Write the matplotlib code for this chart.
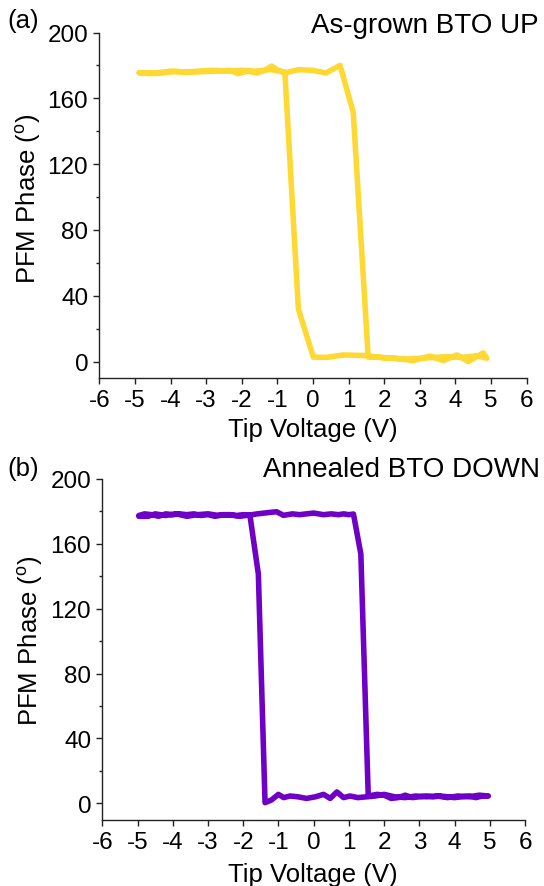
import numpy as np
import matplotlib
matplotlib.use("Agg")
import matplotlib.pyplot as plt
from matplotlib.ticker import MultipleLocator

plt.rcParams['font.family'] = ['Liberation Sans', 'DejaVu Sans']
plt.rcParams['mathtext.fontset'] = 'custom'
plt.rcParams['mathtext.rm'] = 'Liberation Sans'

# (a) as-grown film: forward sweep (upper branch) then reverse sweep
volt_a_fwd = [-4.88, -4.6, -4.3, -3.9, -3.5, -3.1, -2.7, -2.33, -2.1, -1.85,
              -1.58, -1.35, -1.16, -0.98, -0.79, -0.41, 0.0, 0.36, 0.76, 1.13,
              1.55, 1.9, 2.3, 2.81, 3.29, 3.66, 4.04, 4.36, 4.78, 4.88]
phase_a_fwd = [175.7, 175.0, 175.2, 176.3, 176.0, 176.2, 176.5, 177.0, 175.0, 176.5,
               175.4, 177.0, 179.6, 177.0, 175.4, 177.4, 177.0, 175.4, 180.0, 151.5,
               2.7, 2.5, 2.0, 0.6, 3.3, 0.6, 4.0, 0.0, 5.3, 2.0]
volt_a_rev = [4.88, 4.6, 4.2, 3.8, 3.4, 3.0, 2.6, 2.2, 1.9, 1.46,
              1.2, 0.85, 0.38, 0.01, -0.41, -0.79, -1.2, -1.6, -2.0, -2.4,
              -2.8, -3.2, -3.6, -4.0, -4.4, -4.88]
phase_a_rev = [2.0, 3.5, 2.5, 3.0, 2.5, 2.0, 1.5, 2.0, 2.5, 3.6,
               3.8, 4.0, 2.5, 2.7, 32.0, 176.0, 177.5, 176.5, 177.0, 176.5,
               177.0, 176.5, 176.0, 176.5, 175.5, 175.5]

# (b) annealed film
volt_b_fwd = [-4.96, -4.8, -4.6, -4.4, -4.2, -4.0, -3.8, -3.6, -3.4, -3.2,
              -3.0, -2.8, -2.6, -2.4, -2.2, -2.0, -1.81, -1.6, -1.4, -1.2,
              -1.05, -0.86, -0.6, -0.4, -0.2, 0.0, 0.28, 0.5, 0.7, 0.85,
              1.0, 1.13, 1.34, 1.55, 1.8, 2.0, 2.2, 2.4, 2.6, 2.8,
              3.0, 3.2, 3.4, 3.6, 3.8, 4.0, 4.2, 4.4, 4.6, 4.8, 4.96]
phase_b_fwd = [177.5, 178.5, 178.0, 177.0, 178.5, 178.0, 178.5, 178.0, 178.5, 177.5,
               178.0, 177.0, 178.0, 178.0, 177.5, 178.0, 177.8, 178.5, 179.0, 179.5,
               179.8, 177.6, 178.5, 178.0, 178.5, 179.0, 178.0, 178.5, 178.0, 178.5,
               178.0, 178.4, 153.7, 4.5, 5.5, 5.0, 3.0, 3.5, 5.0, 3.5,
               4.0, 4.5, 4.0, 4.5, 4.0, 3.5, 4.0, 4.5, 3.5, 4.5, 4.5]
volt_b_rev = [4.96, 4.7, 4.4, 4.1, 3.8, 3.5, 3.2, 2.9, 2.6, 2.3,
              2.0, 1.75, 1.51, 1.25, 1.03, 0.85, 0.66, 0.47, 0.28, 0.05,
              -0.2, -0.45, -0.67, -0.85, -1.0, -1.2, -1.38, -1.57, -1.81, -2.1,
              -2.4, -2.7, -3.0, -3.3, -3.6, -3.9, -4.2, -4.5, -4.7, -4.96]
phase_b_rev = [4.5, 5.0, 4.0, 4.5, 3.5, 4.5, 4.0, 4.5, 3.5, 4.0,
               5.5, 4.5, 4.0, 3.5, 4.5, 3.5, 7.0, 3.0, 5.5, 4.0,
               3.0, 4.0, 4.5, 3.5, 5.5, 2.0, 0.4, 141.4, 177.8, 177.0,
               178.0, 177.5, 178.5, 178.0, 177.0, 178.5, 177.5, 178.5, 177.0, 177.0]

x_ticks = list(range(-6, 7))
y_ticks = [0, 40, 80, 120, 160, 200]

TICK_FS = 17.5
LABEL_FS = 18.5
TITLE_FS = 20

fig = plt.figure(figsize=(5.44, 8.87), dpi=100)
W, H = 544, 887


def px_axes(left, top, right, bottom):
    return fig.add_axes([left / W, 1 - bottom / H, (right - left) / W, (bottom - top) / H])


def style_axes(ax):
    ax.set_xlim(-6, 6)
    ax.set_ylim(-10, 200)
    ax.set_xticks(x_ticks)
    ax.set_xticklabels([str(t) for t in x_ticks])
    ax.set_yticks(y_ticks)
    ax.yaxis.set_minor_locator(MultipleLocator(20))
    for side in ("top", "right"):
        ax.spines[side].set_visible(False)
    for side in ("left", "bottom"):
        ax.spines[side].set_linewidth(1.0)
        ax.spines[side].set_color("#222222")
    ax.tick_params(which="major", direction="out", length=4.5, width=1.0,
                   labelsize=TICK_FS, pad=3.5, color="#222222")
    ax.tick_params(which="minor", direction="out", length=2.5, width=1.0, color="#222222")


def draw_panel(ax, vf, pf, vr, pr, color):
    v = vf + vr
    p = pf + pr
    ax.plot(v, p, color=color, lw=4.0, solid_joinstyle="round",
            solid_capstyle="round")


ax_a = px_axes(99.3, 33.5, 526.7, 379.0)
style_axes(ax_a)
draw_panel(ax_a, volt_a_fwd, phase_a_fwd, volt_a_rev, phase_a_rev, "#FFD933")

ax_b = px_axes(102.3, 480.0, 525.0, 820.5)
style_axes(ax_b)
draw_panel(ax_b, volt_b_fwd, phase_b_fwd, volt_b_rev, phase_b_rev, "#6F00C6")

ylab = r"PFM Phase ($^{\rm o}$)"
fig.text(28 / W, 1 - 199 / H, ylab, rotation=90, ha="center", va="center", fontsize=LABEL_FS)
fig.text(30 / W, 1 - 641 / H, ylab, rotation=90, ha="center", va="center", fontsize=LABEL_FS)

fig.text(313 / W, 1 - 437 / H, "Tip Voltage (V)", ha="center", va="baseline", fontsize=LABEL_FS)
fig.text(313 / W, 1 - 882 / H, "Tip Voltage (V)", ha="center", va="baseline", fontsize=LABEL_FS)

fig.text(539 / W, 1 - 33 / H, "As-grown BTO UP", ha="right", va="baseline", fontsize=TITLE_FS)
fig.text(540 / W, 1 - 477 / H, "Annealed BTO DOWN", ha="right", va="baseline", fontsize=TITLE_FS)

fig.text(7 / W, 1 - 28 / H, "(a)", ha="left", va="baseline", fontsize=LABEL_FS)
fig.text(7 / W, 1 - 476 / H, "(b)", ha="left", va="baseline", fontsize=LABEL_FS)

fig.savefig("out.png", dpi=100)
